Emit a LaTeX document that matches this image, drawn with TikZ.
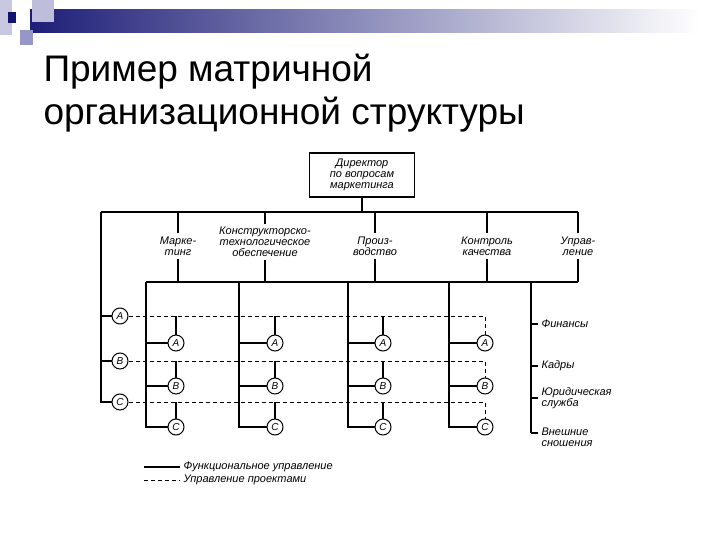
\documentclass[tikz,border=0pt]{standalone}
\usepackage{fontspec}
\setmainfont{Liberation Sans}
\definecolor{navy}{RGB}{30,30,120}
\definecolor{sqA}{RGB}{200,200,225}
\definecolor{sqB}{RGB}{190,190,220}
\definecolor{sqC}{RGB}{150,150,200}
\definecolor{sqD}{RGB}{20,20,110}
\begin{document}
\begin{tikzpicture}[x=1pt,y=-1pt,
  th/.style={line width=1.8pt},
  dsh/.style={line width=1pt,dash pattern=on 4pt off 3pt},
  circ/.style={circle,draw,line width=1pt,minimum size=16pt,inner sep=0pt,font=\fontsize{10}{10}\selectfont\itshape},
  lab/.style={align=center,font=\fontsize{11}{11}\selectfont\itshape},
  rlab/.style={align=left,anchor=west,font=\fontsize{11}{11}\selectfont\itshape}]
\useasboundingbox (0,0) rectangle (720,540);
% header decoration
\shade[left color=navy,right color=white] (30,10) rectangle (700,33);
\fill[sqA] (0,0) rectangle (12,35);
\fill[sqB] (32,0) rectangle (54,22);
\fill[sqC] (20,30) rectangle (33,45);
\fill[sqD] (8,12) rectangle (16,23);
% title
\node[anchor=west,font=\fontsize{37}{43}\selectfont,align=left] (title) at (40,93) {Пример матричной\\организационной структуры};
% director
\node[draw,line width=1.5pt,minimum width=105pt,minimum height=44pt,align=center,font=\fontsize{11}{11}\selectfont\itshape] (dir) at (362,175) {Директор\\по вопросам\\маркетинга};
\coordinate (b0) at (362,212);
\coordinate (bl) at (101,212);
\coordinate (br) at (578,212);
\draw[th] (dir.south) -- (b0);
\draw[th] (bl) -- (br);
% functional labels
\node[lab] (f1) at (178,246) {Марке-\\тинг};
\node[lab] (f2) at (265,242) {Конструкторско-\\технологическое\\обеспечение};
\node[lab] (f3) at (375,246) {Произ-\\водство};
\node[lab] (f4) at (487,246) {Контроль\\качества};
\node[lab] (f5) at (578,246) {Управ-\\ление};
\foreach \i in {1,...,5}{\draw[th] (f\i.north |- bl) -- (f\i.north); \draw[th] (f\i.south) -- (f\i.south |- 0,282);}
\coordinate (s0) at (146,282);
\coordinate (s1) at (578,282);
\draw[th] (s0) -- (s1);
% left project circles
\node[circ] (LA) at (120,316) {A};
\node[circ] (LB) at (120,361) {B};
\node[circ] (LC) at (120,402) {C};
\draw[th] (bl) |- (LC);
\draw[th] (bl |- LA) -- (LA);
\draw[th] (bl |- LB) -- (LB);
% columns
\foreach \n/\vx/\cx in {1/146/176,2/239/275,3/348/383,4/449/485}{
  \node[circ] (A\n) at (\cx,343) {A};
  \node[circ] (B\n) at (\cx,386) {B};
  \node[circ] (C\n) at (\cx,427) {C};
  \draw[th] (\vx,282) |- (C\n);
  \draw[th] (\vx,343) -- (A\n);
  \draw[th] (\vx,386) -- (B\n);
}
\foreach \n in {1,2,3}{
  \draw[th] (A\n.north) -- (A\n.north |- LA);
  \draw[th] (B\n.north) -- (B\n.north |- LB);
  \draw[th] (C\n.north) -- (C\n.north |- LC);
}
\draw[dsh] (LA) -- (A4.north |- LA) -- (A4.north);
\draw[dsh] (LB) -- (B4.north |- LB) -- (B4.north);
\draw[dsh] (LC) -- (C4.north |- LC) -- (C4.north);
% right column
\coordinate (r0) at (531,282);
\coordinate (r1) at (531,433);
\draw[line width=1.2pt] (r0) -- (r1);
\node[rlab] (rf) at (538,324) {Финансы};
\node[rlab] (rk) at (538,366) {Кадры};
\node[rlab] (ru) at (538,398) {Юридическая\\служба};
\node[rlab] (rv) at (538,437) {Внешние\\сношения};
\draw[line width=1.2pt] (r0 |- rf) -- (rf);
\draw[line width=1.2pt] (r0 |- rk) -- (rk);
\draw[line width=1.2pt] (r0 |- ru) -- (ru);
\draw[line width=1.2pt] (r1) -- (538,433);
% legend
\node[rlab] (l1) at (180,467) {Функциональное управление};
\node[rlab] (l2) at (180,480) {Управление проектами};
\draw[th] (144,467) -- (l1.west);
\draw[dsh] (144,480) -- (l2.west);
\end{tikzpicture}
\end{document}
